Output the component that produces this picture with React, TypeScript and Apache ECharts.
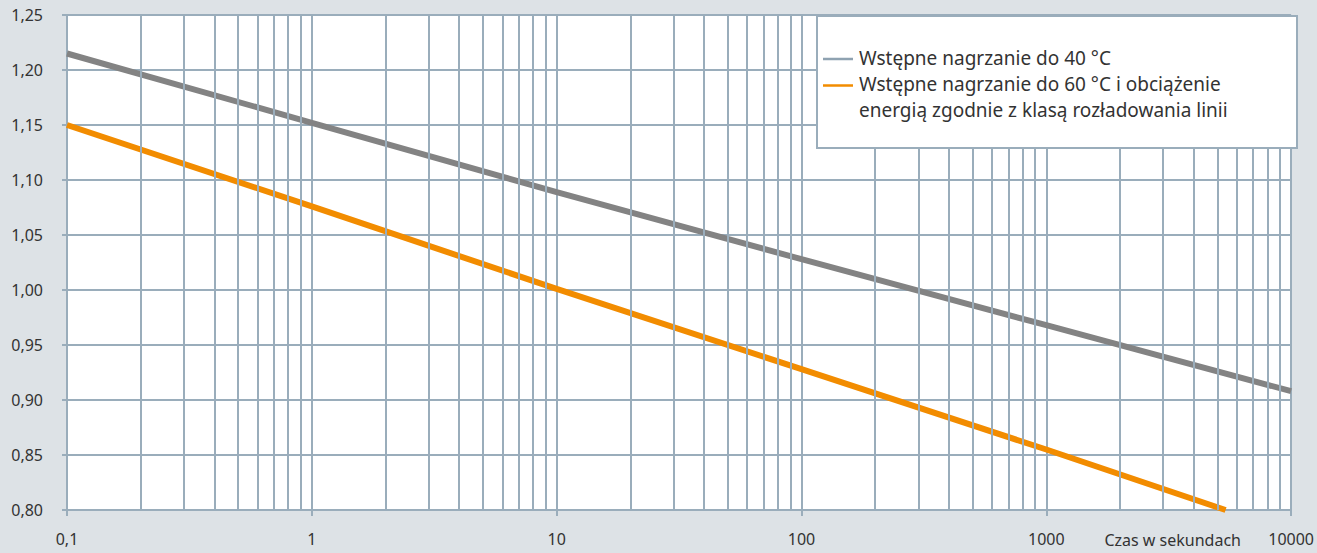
import React, { useEffect, useRef } from "react";
import * as echarts from "echarts";

const FONT = "'Noto Sans', 'Open Sans', sans-serif";
const GRID_COLOR = "#9aadbb";
const TEXT_COLOR = "#333333";

// data (time in seconds, log scale)
const time40 = [0.1, 1, 10, 100, 1000, 10000];
const preheat40 = [1.215, 1.152, 1.089, 1.028, 0.968, 0.908];
const time60 = [0.1, 1, 10, 100, 1000, 5400];
const preheat60 = [1.15, 1.076, 1.001, 0.928, 0.855, 0.8];

const seriesNames = [
  "Wstępne nagrzanie do 40 °C",
  "Wstępne nagrzanie do 60 °C i obciążenie energią zgodnie z klasą rozładowania linii",
];
const legendLines = [
  "Wstępne nagrzanie do 40 °C",
  "Wstępne nagrzanie do 60 °C i obciążenie",
  "energią zgodnie z klasą rozładowania linii",
];
const xAxisTitle = "Czas w sekundach";

const decades = [0.1, 1, 10, 100, 1000];
const minorSteps = [2, 3, 4, 5, 6, 7, 8, 9];

export default function App() {
  const ref = useRef<HTMLDivElement>(null);

  useEffect(() => {
    if (!ref.current) return;
    const chart = echarts.init(ref.current, undefined, { renderer: "svg" });

    const minorLines: any[] = [];
    decades.forEach((d) => minorSteps.forEach((m) => minorLines.push({ xAxis: d * m })));

    const option: any = {
      animation: false,
      backgroundColor: "#dde2e6",
      textStyle: { fontFamily: FONT },
      grid: {
        left: 67,
        right: 22,
        top: 15,
        bottom: 43,
        show: true,
        backgroundColor: "#ffffff",
        borderWidth: 0,
      },
      legend: { show: false },
      xAxis: {
        type: "log",
        logBase: 10,
        min: 0.1,
        max: 10000,
        axisLine: { show: false },
        axisTick: { show: true, length: 6, lineStyle: { color: GRID_COLOR, width: 2 } },
        splitLine: { show: true, lineStyle: { color: GRID_COLOR, width: 2 } },
        minorTick: { show: false },
        minorSplitLine: { show: false },
        axisLabel: {
          color: TEXT_COLOR,
          fontSize: 16,
          fontFamily: FONT,
          margin: 21,
          formatter: (v: number) => {
            if (v < 1) return String(Number(v.toPrecision(3))).replace(".", ",");
            return String(Math.round(v));
          },
        },
      },
      yAxis: {
        type: "value",
        min: 0.8,
        max: 1.25,
        interval: 0.05,
        axisLine: { show: false },
        axisTick: { show: true, length: 5, lineStyle: { color: GRID_COLOR, width: 2 } },
        splitLine: { show: true, lineStyle: { color: GRID_COLOR, width: 2 } },
        axisLabel: {
          color: TEXT_COLOR,
          fontSize: 16,
          fontFamily: FONT,
          margin: 24,
          formatter: (v: number) => v.toFixed(2).replace(".", ","),
        },
      },
      series: [
        {
          name: "grid-minor",
          type: "line",
          data: [],
          z: 1,
          silent: true,
          markLine: {
            silent: true,
            symbol: ["none", "none"],
            label: { show: false },
            emphasis: { disabled: true },
            lineStyle: { color: GRID_COLOR, width: 2, type: "solid" },
            data: minorLines,
          },
        },
        {
          name: seriesNames[0],
          type: "line",
          z: 3,
          showSymbol: false,
          symbol: "none",
          lineStyle: { color: "#838383", width: 6 },
          itemStyle: { color: "#838383" },
          data: time40.map((t, i) => [t, preheat40[i]]),
        },
        {
          name: seriesNames[1],
          type: "line",
          z: 3,
          showSymbol: false,
          symbol: "none",
          lineStyle: { color: "#f28c00", width: 6 },
          itemStyle: { color: "#f28c00" },
          data: time60.map((t, i) => [t, preheat60[i]]),
        },
      ],
      graphic: [
        {
          type: "rect",
          z: 10,
          shape: { x: 817, y: 16, width: 480, height: 132 },
          style: { fill: "#ffffff", stroke: GRID_COLOR, lineWidth: 2 },
        },
        {
          type: "line",
          z: 11,
          shape: { x1: 823, y1: 59, x2: 853, y2: 59 },
          style: { stroke: "#8fa2b1", lineWidth: 2.5 },
        },
        {
          type: "line",
          z: 11,
          shape: { x1: 823, y1: 85.5, x2: 853, y2: 85.5 },
          style: { stroke: "#f28c00", lineWidth: 2.5 },
        },
        ...legendLines.map((t, i) => ({
          type: "text",
          z: 11,
          x: 859,
          y: 58 + i * 26,
          style: {
            text: t,
            fill: TEXT_COLOR,
            font: `19px ${FONT}`,
            textAlign: "left",
            textVerticalAlign: "middle",
          },
        })),
        {
          type: "text",
          z: 11,
          x: 1241,
          y: 540,
          style: {
            text: xAxisTitle,
            fill: TEXT_COLOR,
            font: `16px ${FONT}`,
            textAlign: "right",
            textVerticalAlign: "middle",
          },
        },
      ],
    };

    chart.setOption(option);
    return () => chart.dispose();
  }, []);

  return (
    <div
      ref={ref}
      style={{ position: "fixed", left: 0, top: 0, width: 1317, height: 553 }}
    />
  );
}
